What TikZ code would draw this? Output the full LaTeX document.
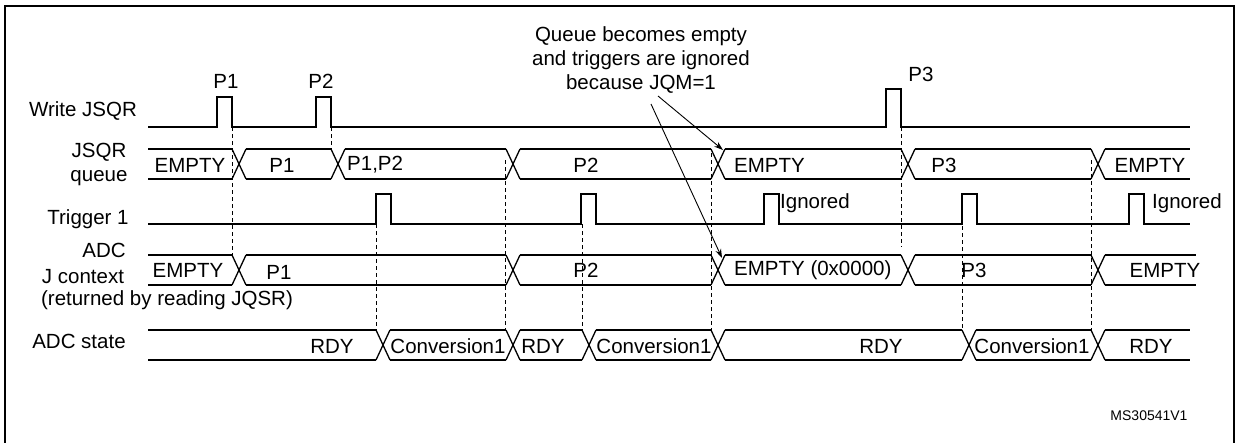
\documentclass[tikz,border=0pt]{standalone}
\usepackage{fontspec}
\setmainfont{Liberation Sans}
\usetikzlibrary{arrows.meta}
\newcommand\seg[4]{\draw[sig] (#1,#3) -- (#2,#3) (#1,#4) -- (#2,#4);}
\newcommand\crs[3]{\draw[sig] (#1,#2) -- ({#1+14},#3) (#1,#3) -- ({#1+14},#2);}
\begin{document}
\begin{tikzpicture}[x=1pt,y=-1pt,
  sig/.style={line width=1.3pt},
  dsh/.style={line width=1pt,dash pattern=on 4pt off 3pt},
  lab/.style={font=\fontsize{20.5}{24}\selectfont,inner sep=0pt},
  ann/.style={line width=0.9pt,-{Stealth[length=9pt,width=6pt]}}]
\useasboundingbox (0,0) rectangle (1237,442);
\draw[line width=2pt] (5,460) -- (5,6) -- (1234,6) -- (1234,460);
% labels
\node[lab] (lw) at (83,111) {Write JSQR};
\node[lab,align=center] (lq) at (99,164) {JSQR\\queue};
\node[lab] (lt) at (88,219) {Trigger 1};
\node[lab] (la) at (104,250) {ADC};
\node[lab] (lj) at (83,277) {J context};
\node[lab] (lr) at (167,300) {(returned by reading JQSR)};
\node[lab] (ls) at (79,341) {ADC state};
% write JSQR
\draw[sig] (148,127) -- (217,127) -- (217,97) -- (232,97) -- (232,127) -- (316,127) -- (316,97) -- (331,97) -- (331,127) -- (886,127) -- (886,89) -- (901,89) -- (901,127) -- (1190,127);
\node[lab] (p1) at (226,81) {P1};
\node[lab] (p2) at (321,81) {P2};
\node[lab] (p3) at (921,74) {P3};
% JSQR queue
\seg{148}{232}{149}{179}\crs{232}{149}{179}
\seg{246}{331}{149}{179}\crs{331}{149}{179}
\seg{345}{506}{149}{179}\crs{506}{149}{179}
\seg{520}{711}{149}{179}\crs{711}{149}{179}
\seg{725}{901}{149}{179}\crs{901}{149}{179}
\seg{915}{1091}{149}{179}\crs{1091}{149}{179}
\seg{1105}{1190}{149}{179}
\node[lab] (q1) at (190,165) {EMPTY};
\node[lab] (q2) at (282,165) {P1};
\node[lab,anchor=west] (q3) at (347,165) {P1,P2};
\node[lab] (q4) at (586,165) {P2};
\node[lab,anchor=west] (q5) at (734,165) {EMPTY};
\node[lab] (q6) at (944,165) {P3};
\node[lab] (q7) at (1150,165) {EMPTY};
% trigger
\draw[sig] (148,224) -- (376,224) -- (376,194) -- (391,194) -- (391,224) -- (581,224) -- (581,194) -- (596,194) -- (596,224) -- (764,224) -- (764,194) -- (779,194) -- (779,224) -- (962,224) -- (962,194) -- (977,194) -- (977,224) -- (1129,224) -- (1129,194) -- (1144,194) -- (1144,224) -- (1190,224);
\node[lab,anchor=west] (ig1) at (780,203) {Ignored};
\node[lab,anchor=west] (ig2) at (1152,203) {Ignored};
% ADC J context
\seg{148}{232}{255}{285}\crs{232}{255}{285}
\seg{246}{506}{255}{285}\crs{506}{255}{285}
\seg{520}{711}{255}{285}\crs{711}{255}{285}
\seg{725}{901}{255}{285}\crs{901}{255}{285}
\seg{915}{1091}{255}{285}\crs{1091}{255}{285}
\seg{1105}{1196}{255}{285}
\node[lab] (j1) at (188,270) {EMPTY};
\node[lab] (j2) at (279,272) {P1};
\node[lab] (j3) at (586,270) {P2};
\node[lab,anchor=west] (j4) at (734,270) {EMPTY (0x0000)};
\node[lab] (j5) at (974,270) {P3};
\node[lab] (j6) at (1165,270) {EMPTY};
% ADC state
\seg{148}{376}{330}{360}\crs{376}{330}{360}
\seg{390}{506}{330}{360}\crs{506}{330}{360}
\seg{520}{582}{330}{360}\crs{582}{330}{360}
\seg{596}{711}{330}{360}\crs{711}{330}{360}
\seg{725}{962}{330}{360}\crs{962}{330}{360}
\seg{976}{1091}{330}{360}\crs{1091}{330}{360}
\seg{1105}{1190}{330}{360}
\node[lab] (s1) at (332,346) {RDY};
\node[lab] (s2) at (448,346) {Conversion1};
\node[lab] (s3) at (543,346) {RDY};
\node[lab] (s4) at (654,346) {Conversion1};
\node[lab] (s5) at (881,346) {RDY};
\node[lab] (s6) at (1032,346) {Conversion1};
\node[lab] (s7) at (1151,346) {RDY};
% dashed
\draw[dsh] (232,127) -- (232,255);
\draw[dsh] (331,127) -- (331,149);
\draw[dsh] (376,224) -- (376,330);
\draw[dsh] (505,160) -- (505,330);
\draw[dsh] (582,224) -- (582,330);
\draw[dsh] (711,153) -- (711,330);
\draw[dsh] (901,127) -- (901,247);
\draw[dsh] (962,205) -- (962,330);
\draw[dsh] (1091,160) -- (1091,330);
% annotation
\node[lab,align=center] (an) at (641,60) {Queue becomes empty\\and triggers are ignored\\because JQM=1};
\coordinate (a1) at (723,150);
\coordinate (a2) at (722,258);
\draw[ann] (658,96) -- (a1);
\draw[ann] (651,104) -- (a2);
\node[font=\fontsize{14}{16}\selectfont,inner sep=0pt] (ms) at (1149,416) {MS30541V1};
\end{tikzpicture}
\end{document}
